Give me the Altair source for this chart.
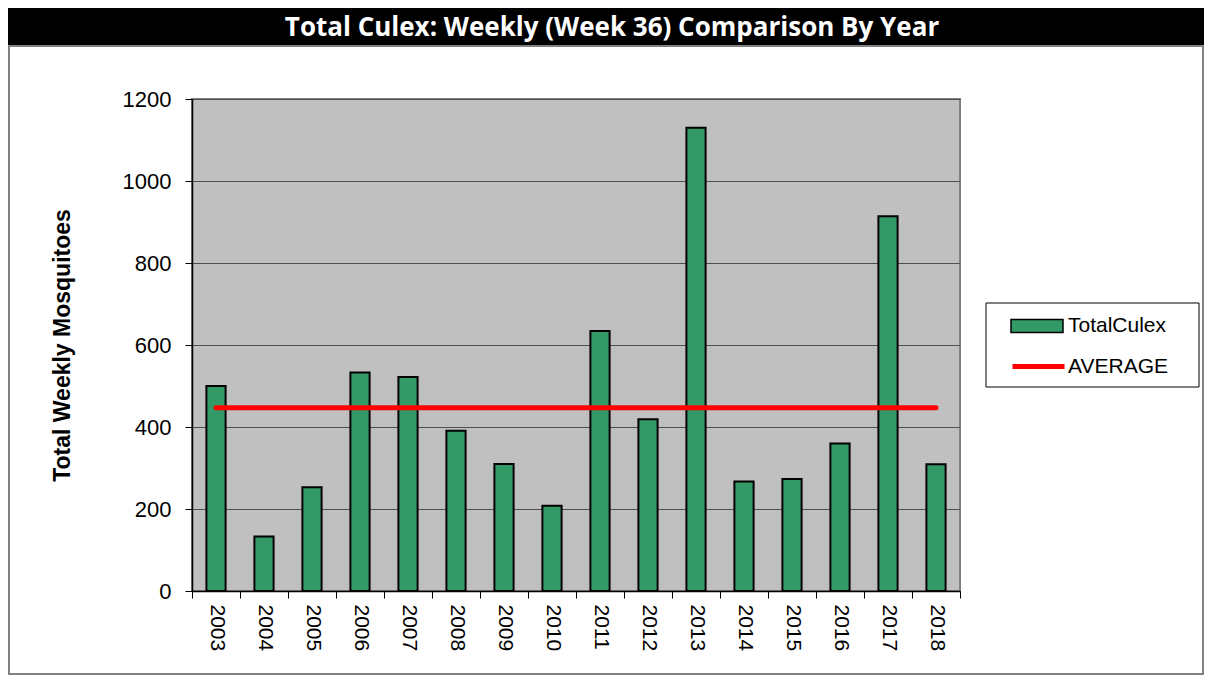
import altair as alt
import pandas as pd

# ---- data ----
years = ["2003", "2004", "2005", "2006", "2007", "2008", "2009", "2010",
         "2011", "2012", "2013", "2014", "2015", "2016", "2017", "2018"]
total_culex = [500, 133, 253, 533, 522, 391, 310, 208,
               634, 419, 1130, 267, 273, 360, 914, 309]
average_value = 447
y_tick_values = [0, 200, 400, 600, 800, 1000, 1200]
series_bar = "TotalCulex"
series_line = "AVERAGE"
chart_title = "Total Culex: Weekly (Week 36) Comparison By Year"
y_title = "Total Weekly Mosquitoes"

bars_df = pd.DataFrame({"year": years, "total": total_culex, "series": series_bar})
avg_df = pd.DataFrame({"year": years, "avg": [average_value] * len(years), "series": series_line})
one_row = pd.DataFrame({"k": [0]})

W, H = 768, 492
FONT = "Liberation Sans"

x_axis = alt.Axis(labelAngle=90, tickBand="extent", labelFont=FONT, labelFontSize=21,
                  labelColor="black", tickColor="black", tickSize=7, domainColor="black",
                  domainWidth=1.5, labelPadding=6, grid=False, title=None)
x_enc = alt.X("year:O", title=None, sort=years,
              scale=alt.Scale(paddingInner=0, paddingOuter=0), axis=x_axis)

y_axis = alt.Axis(values=y_tick_values, format="d", title=y_title, titleFont=FONT, titleFontSize=23,
                  titleFontWeight="bold", titleColor="black", titleX=-130, titleY=H / 2,
                  titleAlign="center", titleBaseline="middle", titleAngle=270,
                  labelFont=FONT, labelFontSize=22, labelColor="black", labelPadding=14,
                  tickColor="black", tickSize=7, domainColor="black", domainWidth=1.5,
                  gridColor="#505050", gridWidth=1)
y_scale = alt.Scale(domain=[0, 1200], nice=False)

bars = alt.Chart(bars_df).mark_bar(
    width=alt.RelativeBandSize(0.4), stroke="black", strokeWidth=2
).encode(
    x=x_enc,
    y=alt.Y("total:Q", scale=y_scale, axis=y_axis, title=y_title),
    fill=alt.Fill("series:N",
                  scale=alt.Scale(domain=[series_bar], range=["#339966"]),
                  legend=alt.Legend(title=None, orient="none", legendX=818, legendY=200,
                                    symbolType="M-1,-0.25H1V0.25H-1Z", symbolSize=2704,
                                    symbolStrokeColor="black", symbolStrokeWidth=1.5,
                                    labelFont=FONT, labelFontSize=21, labelColor="black",
                                    labelOffset=4, padding=0)),
)

avg_line = alt.Chart(avg_df).mark_line(strokeWidth=5, strokeCap="round").encode(
    x=x_enc,
    y=alt.Y("avg:Q", scale=y_scale, axis=y_axis, title=y_title),
    stroke=alt.Stroke("series:N",
                      scale=alt.Scale(domain=[series_line], range=["#ff0000"]),
                      legend=alt.Legend(title=None, orient="none", legendX=818, legendY=239,
                                        symbolType="stroke", symbolSize=2704,
                                        symbolStrokeWidth=5,
                                        labelFont=FONT, labelFontSize=21, labelColor="black",
                                        labelOffset=1, padding=0)),
)

title_bar = alt.Chart(one_row).mark_rect(fill="black").encode(
    x=alt.value(-184), x2=alt.value(1012), y=alt.value(-91), y2=alt.value(-53))
frame = alt.Chart(one_row).mark_rect(filled=False, stroke="#808080", strokeWidth=2).encode(
    x=alt.value(-183), x2=alt.value(1011), y=alt.value(-53), y2=alt.value(575))
legend_box = alt.Chart(one_row).mark_rect(fill="white", stroke="black", strokeWidth=1).encode(
    x=alt.value(794), x2=alt.value(1007), y=alt.value(204), y2=alt.value(288))
title_text = alt.Chart(one_row).mark_text(
    text=chart_title, color="white", font="Open Sans", fontWeight="bold", fontSize=26,
    align="center", baseline="middle"
).encode(x=alt.value(420), y=alt.value(-71))

chart = alt.layer(title_bar, frame, legend_box, bars, avg_line, title_text).resolve_scale(
    fill="independent", stroke="independent"
).properties(
    width=W, height=H,
    padding={"left": 184, "top": 91, "right": 244, "bottom": 85},
    autosize=alt.AutoSizeParams(type="none"),
).configure_view(fill="#C0C0C0", stroke="#808080", strokeWidth=2)

chart.save("out.html", embed_options={"renderer": "svg", "actions": False})
